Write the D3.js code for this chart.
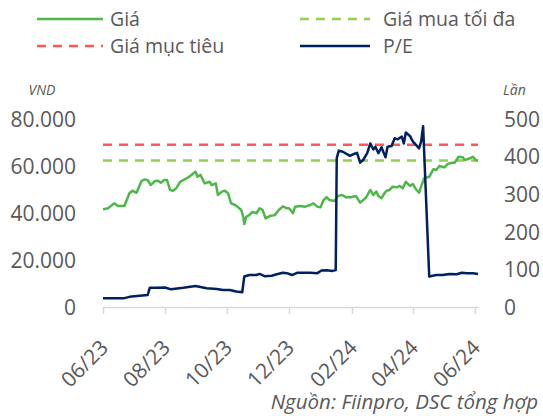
<!DOCTYPE html>
<html>
<head>
<meta charset="utf-8">
<script src="https://cdn.jsdelivr.net/npm/d3@7"></script>
<style>
  body { margin: 0; background: #fff; }
  text { font-family: "Open Sans", sans-serif; fill: #595959; }
</style>
</head>
<body>
<div id="chart"></div>
<script>
// Chart size
const width = 543;
const height = 416;

// Price data (VND)
const priceDates = ["2023-06-01","2023-06-06","2023-06-12","2023-06-16","2023-06-22","2023-06-27","2023-06-30","2023-07-04","2023-07-09","2023-07-12","2023-07-15","2023-07-18","2023-07-22","2023-07-25","2023-07-28","2023-07-31","2023-08-03","2023-08-06","2023-08-09","2023-08-12","2023-08-16","2023-08-19","2023-08-24","2023-08-27","2023-08-31","2023-09-02","2023-09-05","2023-09-09","2023-09-14","2023-09-16","2023-09-20","2023-09-22","2023-09-26","2023-09-29","2023-10-02","2023-10-05","2023-10-09","2023-10-12","2023-10-15","2023-10-17","2023-10-18","2023-10-20","2023-10-23","2023-10-26","2023-10-30","2023-11-02","2023-11-05","2023-11-08","2023-11-12","2023-11-17","2023-11-21","2023-11-25","2023-11-29","2023-12-01","2023-12-05","2023-12-07","2023-12-12","2023-12-17","2023-12-22","2023-12-25","2023-12-29","2024-01-01","2024-01-04","2024-01-07","2024-01-10","2024-01-15","2024-01-18","2024-01-22","2024-01-26","2024-01-31","2024-02-05","2024-02-09","2024-02-12","2024-02-15","2024-02-19","2024-02-22","2024-02-25","2024-02-27","2024-03-01","2024-03-04","2024-03-06","2024-03-09","2024-03-12","2024-03-16","2024-03-19","2024-03-22","2024-03-25","2024-03-29","2024-04-01","2024-04-04","2024-04-07","2024-04-09","2024-04-12","2024-04-17","2024-04-21","2024-04-24","2024-04-27","2024-05-02","2024-05-05","2024-05-09","2024-05-12","2024-05-16","2024-05-20","2024-05-22","2024-05-27","2024-05-30","2024-06-02","2024-06-04"];
const priceValues = [41600,42000,44100,43000,43000,48400,49500,48600,53700,54300,54000,51900,53600,53700,52900,54000,54000,49800,49500,50500,53300,54000,55200,56200,57600,55400,56200,52600,53300,51900,52600,47700,49100,49500,48400,44100,43400,42400,41300,38400,35300,38400,39100,40500,39900,42000,41300,37700,38700,39100,41300,42800,42000,42000,39900,42700,43000,42700,43400,44100,42700,42400,45500,46700,45500,45100,47200,47700,46700,46700,47200,44400,45500,46700,49800,47700,49100,47200,46300,48400,49500,49800,51200,50900,51500,50500,53300,51500,52300,50100,48600,51200,54800,55400,58600,58300,60000,59400,60800,61400,61400,63900,63700,62500,63300,63900,62500,62300];

// P/E data (times)
const peDates = ["2023-06-01","2023-06-21","2023-06-27","2023-07-07","2023-07-15","2023-07-17","2023-07-23","2023-08-01","2023-08-07","2023-08-19","2023-08-31","2023-09-11","2023-09-21","2023-09-27","2023-10-04","2023-10-10","2023-10-16","2023-10-18","2023-10-23","2023-10-30","2023-11-02","2023-11-07","2023-11-14","2023-11-19","2023-11-25","2023-11-29","2023-12-04","2023-12-09","2023-12-22","2023-12-29","2024-01-02","2024-01-07","2024-01-13","2024-01-16","2024-01-17","2024-01-19","2024-01-23","2024-01-30","2024-02-03","2024-02-06","2024-02-09","2024-02-12","2024-02-16","2024-02-19","2024-02-22","2024-02-24","2024-02-27","2024-03-01","2024-03-05","2024-03-07","2024-03-11","2024-03-14","2024-03-17","2024-03-21","2024-03-23","2024-03-25","2024-03-29","2024-04-01","2024-04-04","2024-04-07","2024-04-09","2024-04-11","2024-04-17","2024-04-24","2024-04-30","2024-05-07","2024-05-14","2024-05-19","2024-05-24","2024-05-30","2024-06-04"];
const peValues = [23,23,27,30,32,51,51,52,47,51,56,50,48,45,45,41,39,81,85,85,88,82,83,87,91,90,85,91,91,90,97,98,96,98,396,416,413,402,407,410,384,391,409,435,419,426,409,425,398,426,428,449,446,453,435,464,455,440,431,422,440,481,81,85,85,88,87,91,90,90,88];

// Reference levels
const targetPrice = 69000;   // Giá mục tiêu
const maxBuyPrice = 62300;   // Giá mua tối đa

// Axis ticks
const leftTicks = [0, 20000, 40000, 60000, 80000];
const rightTicks = [0, 100, 200, 300, 400, 500];
const xTickDates = ["2023-06-01","2023-08-01","2023-10-01","2023-12-01","2024-02-01","2024-04-01","2024-06-01"];

// Legend entries
const legendItems = [
  { name: "Giá", color: "#4DB848", dash: null, col: 0, row: 0 },
  { name: "Giá mua tối đa", color: "#92D050", dash: "9,7", col: 1, row: 0 },
  { name: "Giá mục tiêu", color: "#FF5757", dash: "9,7", col: 0, row: 1 },
  { name: "P/E", color: "#002060", dash: null, col: 1, row: 1 }
];

const parse = d3.timeParse("%Y-%m-%d");
const fmtTick = d3.timeFormat("%m/%y");

const priceData = priceDates.map((d, i) => ({ date: parse(d), value: priceValues[i] }));
const peData = peDates.map((d, i) => ({ date: parse(d), value: peValues[i] }));

const svg = d3.select("#chart")
  .append("svg")
  .attr("width", width)
  .attr("height", height);

// Scales
const x = d3.scaleTime()
  .domain([parse("2023-06-01"), parse("2024-06-04")])
  .range([103, 478]);

const yLeft = d3.scaleLinear().domain([0, 80000]).range([307, 119]);
const yRight = d3.scaleLinear().domain([0, 500]).range([307, 119]);

// X axis
const xAxis = svg.append("g")
  .attr("transform", "translate(0,307)")
  .call(d3.axisBottom(x)
    .tickValues(xTickDates.map(parse))
    .tickFormat(fmtTick)
    .tickSizeInner(7)
    .tickSizeOuter(0));
xAxis.select(".domain").attr("stroke", "#D9D9D9").attr("stroke-width", 1.5);
xAxis.selectAll(".tick line").attr("stroke", "#D9D9D9").attr("stroke-width", 1.5);
xAxis.selectAll(".tick text")
  .attr("text-anchor", "end")
  .attr("x", 0).attr("y", 0).attr("dy", 0)
  .attr("transform", "translate(6,42) rotate(-45)")
  .style("font-size", "21px")
  .style("font-family", "Open Sans, sans-serif")
  .attr("fill", "#595959");

// Left axis
const leftAxis = svg.append("g")
  .attr("transform", "translate(103,0)")
  .call(d3.axisLeft(yLeft)
    .tickValues(leftTicks)
    .tickFormat(d => d === 0 ? "0" : d3.format(",")(d).replace(/,/g, "."))
    .tickSize(0)
    .tickPadding(27));
leftAxis.select(".domain").remove();
leftAxis.selectAll("text")
  .attr("dy", "0.35em")
  .style("font-size", "21px")
  .style("font-family", "Open Sans, sans-serif")
  .attr("fill", "#595959");

// Right axis
const rightAxis = svg.append("g")
  .attr("transform", "translate(478,0)")
  .call(d3.axisRight(yRight)
    .tickValues(rightTicks)
    .tickSize(0)
    .tickPadding(26));
rightAxis.select(".domain").remove();
rightAxis.selectAll("text")
  .attr("dy", "0.35em")
  .style("font-size", "21px")
  .style("font-family", "Open Sans, sans-serif")
  .attr("fill", "#595959");

// Axis unit labels
svg.append("text")
  .attr("x", 42).attr("y", 95)
  .attr("text-anchor", "middle")
  .style("font-size", "14px")
  .style("font-style", "italic")
  .text("VND");
svg.append("text")
  .attr("x", 503).attr("y", 95)
  .style("font-size", "14px")
  .style("font-style", "italic")
  .text("Lần");

// Reference dashed lines
svg.append("line")
  .attr("x1", x.range()[0]).attr("x2", x.range()[1])
  .attr("y1", yLeft(targetPrice)).attr("y2", yLeft(targetPrice))
  .attr("stroke", "#FF5757").attr("stroke-width", 2.5)
  .attr("stroke-dasharray", "9,7");
svg.append("line")
  .attr("x1", x.range()[0]).attr("x2", x.range()[1])
  .attr("y1", yLeft(maxBuyPrice)).attr("y2", yLeft(maxBuyPrice))
  .attr("stroke", "#92D050").attr("stroke-width", 2.5)
  .attr("stroke-dasharray", "9,7");

// Price line
svg.append("path")
  .datum(priceData)
  .attr("fill", "none")
  .attr("stroke", "#4DB848")
  .attr("stroke-width", 2.5)
  .attr("stroke-linejoin", "round")
  .attr("d", d3.line().x(d => x(d.date)).y(d => yLeft(d.value)));

// P/E line
svg.append("path")
  .datum(peData)
  .attr("fill", "none")
  .attr("stroke", "#002060")
  .attr("stroke-width", 2.5)
  .attr("stroke-linejoin", "round")
  .attr("d", d3.line().x(d => x(d.date)).y(d => yRight(d.value)));

// Legend
const legend = svg.append("g");
const colX = [37, 300];
const colLine = [66, 70];
const colText = [73, 83];
const rowY = [19, 46];
legendItems.forEach(item => {
  const g = legend.append("g")
    .attr("transform", `translate(${colX[item.col]},${rowY[item.row]})`);
  g.append("line")
    .attr("x1", 0).attr("x2", colLine[item.col])
    .attr("stroke", item.color)
    .attr("stroke-width", 2.5)
    .attr("stroke-dasharray", item.dash);
  g.append("text")
    .attr("x", colText[item.col]).attr("dy", "0.35em")
    .style("font-size", "19.5px")
    .text(item.name);
});

// Source note
svg.append("text")
  .attr("x", 538).attr("y", 409)
  .attr("text-anchor", "end")
  .style("font-size", "20.5px")
  .style("font-style", "italic")
  .text("Nguồn: Fiinpro, DSC tổng hợp");
</script>
</body>
</html>
